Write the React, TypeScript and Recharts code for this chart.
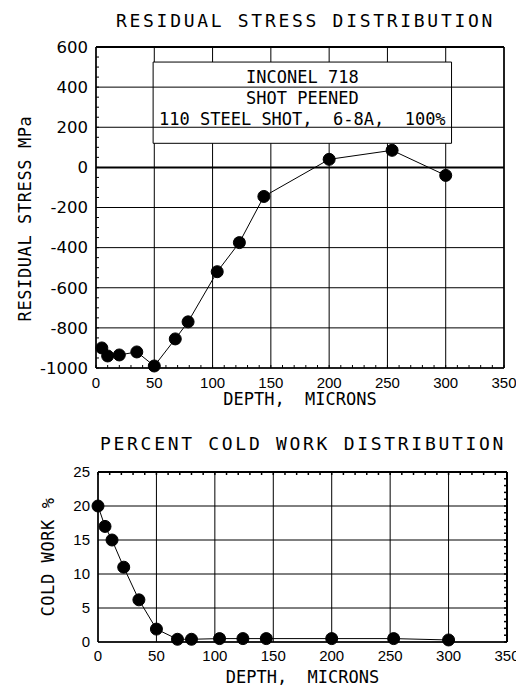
import React from 'react';
import { LineChart, Line, XAxis, YAxis, CartesianGrid, ReferenceLine, ReferenceArea, Label } from 'recharts';

// residual stress vs depth
const stressDepth = [5, 10, 20, 35, 50, 68, 79, 104, 123, 144, 200, 254, 300];
const stressValue = [-900, -940, -935, -920, -990, -855, -770, -520, -375, -145, 40, 85, -40];

// percent cold work vs depth
const coldDepth = [0, 6, 12, 22, 35, 50, 68, 80, 104, 124, 144, 200, 253, 300];
const coldValue = [20, 17, 15, 11, 6.2, 1.9, 0.4, 0.4, 0.5, 0.5, 0.5, 0.5, 0.5, 0.3];

const depthMajor = [0, 50, 100, 150, 200, 250, 300, 350];
const depthMinor = Array.from({ length: 36 }, (_, i) => i * 10);
const stressMajor = [-1000, -800, -600, -400, -200, 0, 200, 400, 600];
const stressMinor = Array.from({ length: 33 }, (_, i) => -1000 + i * 50);
const coldMajor = [0, 5, 10, 15, 20, 25];
const coldMinor = Array.from({ length: 26 }, (_, i) => i);

const noteLines = ['INCONEL 718', 'SHOT PEENED', '110 STEEL SHOT,\u00a0 6-8A,\u00a0 100%'];
const noteBox = { x1: 49, x2: 305, y1: 120, y2: 525 };

const stressData = stressDepth.map((d, i) => ({ depth: d, stress: stressValue[i] }));
const coldData = coldDepth.map((d, i) => ({ depth: d, cold: coldValue[i] }));

const MONO = '"DejaVu Sans Mono", monospace';
const SANS = '"Liberation Sans", Arial, sans-serif';
const WIDE = '"DejaVu Sans", sans-serif';

const tickRenderer = (every: number, anchor: 'middle' | 'end', dy: string, size: number, family: string) =>
  (props: any) => {
    const { x, y, payload } = props;
    if (payload.value % every !== 0) return <g />;
    return (
      <text x={x} y={y} dy={dy} textAnchor={anchor} fontSize={size} fontFamily={family} fill="#000">
        {payload.value}
      </text>
    );
  };

const blank = () => <g />;

const yLabel = (text: string, offset: number, shift: number) => (props: any) => {
  const { x, y, height } = props.viewBox;
  const cx = x + offset;
  const cy = y + height / 2 + shift;
  return (
    <text x={cx} y={cy} dy="0.35em" textAnchor="middle" transform={`rotate(-90, ${cx}, ${cy})`}
      fontSize={17} fontFamily={MONO} letterSpacing={0.6} fill="#000">
      {text}
    </text>
  );
};

const NoteLabel = (props: any) => {
  const { x, y, width } = props.viewBox;
  const cx = x + width / 2;
  return (
    <g>
      {noteLines.map((t, i) => (
        <text key={i} x={cx} y={y + 21 + i * 21} textAnchor="middle" fontSize={17} fontFamily={MONO} fill="#000">
          {t}
        </text>
      ))}
    </g>
  );
};

const titleStyle: React.CSSProperties = {
  position: 'absolute',
  fontFamily: MONO,
  fontSize: 18,
  lineHeight: '18px',
  letterSpacing: 2.7,
  whiteSpace: 'pre',
  color: '#000',
};

export default function App() {
  return (
    <div style={{ position: 'relative', width: 516, height: 692, background: '#fff' }}>
      <div style={{ ...titleStyle, left: 108, top: 4 }}>RESIDUAL STRESS DISTRIBUTION</div>
      <div style={{ ...titleStyle, left: 92, top: 427 }}>PERCENT COLD WORK DISTRIBUTION</div>

      <div style={{ position: 'absolute', left: 0, top: 0 }}>
        <LineChart width={516} height={420} data={stressData} margin={{ top: 39, right: 20, bottom: 20, left: 13 }}>
          {/* hidden axis that only carries the major grid positions */}
          <XAxis xAxisId="grid" type="number" dataKey="depth" domain={[0, 350]} ticks={depthMajor} hide />
          <CartesianGrid xAxisId="grid" horizontal={false} stroke="#000" strokeWidth={1} strokeOpacity={1} />
          <XAxis type="number" dataKey="depth" domain={[0, 350]} ticks={depthMinor} interval={0} height={40}
            axisLine={{ stroke: '#000', strokeWidth: 1.5 }} tickLine={{ stroke: '#000' }} tickSize={-3} tickMargin={12}
            tick={tickRenderer(50, 'middle', '0.71em', 15, SANS)}>
            <Label value={'DEPTH,\u00a0 MICRONS'} position="insideBottom" offset={3} fontSize={17} fontFamily={MONO} fill="#000" />
          </XAxis>
          <YAxis type="number" domain={[-1000, 600]} ticks={stressMinor} interval={0} width={75}
            axisLine={{ stroke: '#000', strokeWidth: 1.5 }} tickLine={{ stroke: '#000' }} tickSize={-3} tickMargin={11}
            tick={tickRenderer(200, 'end', '0.35em', 16.5, WIDE)}
            label={{ content: yLabel('RESIDUAL STRESS MPa', 4, 11) }} />
          {stressMajor.map((v) => (
            <ReferenceLine key={v} y={v} stroke="#000" strokeWidth={v === 0 || v === 600 ? 2 : 1} />
          ))}
          <ReferenceLine x={350} stroke="#000" strokeWidth={1.5} />
          <ReferenceArea x1={noteBox.x1} x2={noteBox.x2} y1={noteBox.y1} y2={noteBox.y2}
            fill="#fff" fillOpacity={1} stroke="#000" strokeWidth={1} label={<NoteLabel />} />
          <Line dataKey="stress" stroke="#000" strokeWidth={1} isAnimationActive={false}
            dot={{ r: 6, fill: '#000', stroke: '#000', strokeWidth: 1 }} />
        </LineChart>
      </div>

      <div style={{ position: 'absolute', left: 0, top: 420 }}>
        <LineChart width={516} height={272} data={coldData} margin={{ top: 43, right: 16, bottom: 8, left: 30 }}>
          <XAxis xAxisId="grid" type="number" dataKey="depth" domain={[0, 350]} ticks={depthMajor} hide />
          <YAxis yAxisId="grid" type="number" dataKey="cold" domain={[0, 25]} ticks={coldMajor} hide />
          <CartesianGrid xAxisId="grid" yAxisId="grid" stroke="#000" strokeWidth={1} strokeOpacity={1} />
          <XAxis xAxisId="top" orientation="top" type="number" dataKey="depth" domain={[0, 350]} ticks={depthMinor} interval={0}
            height={1} axisLine={{ stroke: '#000', strokeWidth: 2 }} tickLine={{ stroke: '#000', strokeWidth: 1.5 }}
            tickSize={-3} tick={blank} />
          <YAxis yAxisId="right" orientation="right" type="number" dataKey="cold" domain={[0, 25]} ticks={coldMinor} interval={0}
            width={1} axisLine={{ stroke: '#000', strokeWidth: 2 }} tickLine={{ stroke: '#000', strokeWidth: 1.5 }}
            tickSize={-3} tick={blank} />
          <XAxis type="number" dataKey="depth" domain={[0, 350]} ticks={depthMajor} interval={0} height={50}
            axisLine={{ stroke: '#000', strokeWidth: 1.5 }} tickLine={false} tickSize={0} tickMargin={8}
            tick={tickRenderer(50, 'middle', '0.71em', 15, SANS)}>
            <Label value={'DEPTH,\u00a0 MICRONS'} position="insideBottom" offset={9} fontSize={17} fontFamily={MONO} fill="#000" />
          </XAxis>
          <YAxis type="number" domain={[0, 25]} ticks={coldMajor} interval={0} width={60}
            axisLine={{ stroke: '#000', strokeWidth: 1.5 }} tickLine={false} tickSize={0} tickMargin={8}
            tick={tickRenderer(5, 'end', '0.35em', 15, SANS)}
            label={{ content: yLabel('COLD WORK %', 10, 0) }} />
          <Line dataKey="cold" stroke="#000" strokeWidth={1} isAnimationActive={false}
            dot={{ r: 6, fill: '#000', stroke: '#000', strokeWidth: 1 }} />
        </LineChart>
      </div>
    </div>
  );
}
